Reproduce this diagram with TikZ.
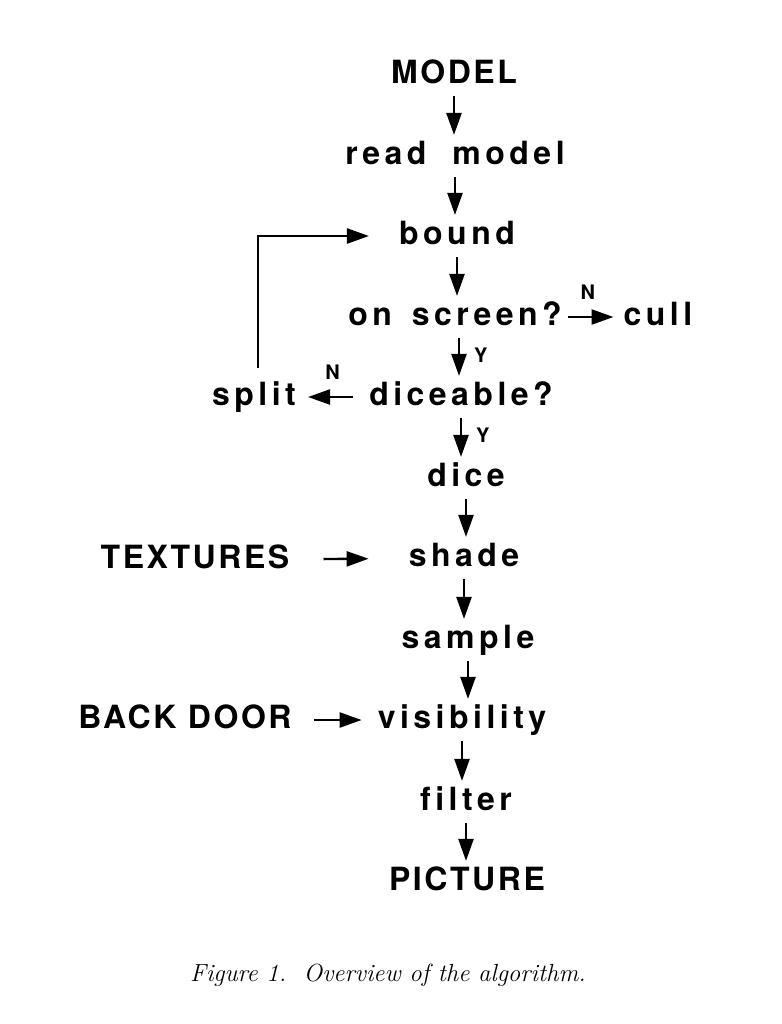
\documentclass[tikz,border=0pt]{standalone}
\usepackage{fontspec}
\setsansfont[LetterSpace=14,Ligatures=NoCommon]{TeX Gyre Heros}
\newfontfamily\capsfont[LetterSpace=8,Ligatures=NoCommon]{TeX Gyre Heros}
\usepackage{tikz}
\usetikzlibrary{shapes,arrows,arrows.meta,positioning}

\begin{document}
\begin{tikzpicture}[x=0.5pt,y=-0.5pt,
	box/.style={font=\sffamily\bfseries\fontsize{16}{18}\selectfont, inner sep=2.5pt, text height=11.5pt, text depth=3.4pt},
	capbox/.style={box, font=\capsfont\bfseries\fontsize{16}{18}\selectfont},
	yn/.style={font=\capsfont\bfseries\fontsize{10}{11}\selectfont, inner sep=1pt},
	>={Triangle[length=11pt,width=7.5pt]}, line width=1.2pt]
				\useasboundingbox (0,0) rectangle (782,1024);
				\node[capbox] (model) at (454,75) {MODEL};
				\node[box] (read) at (455,156) {read\hspace{13pt}model};
				\node[box] (bound) at (457,236) {bound};
				\node[box] (onscr) at (455,317) {on\hspace{10pt}screen?};
				\node[box] (cull) at (658,317) {cull};
				\node[box] (dicea) at (461,397) {diceable?};
				\node[box] (split) at (254,397) {split};
				\node[box] (dice) at (466,478) {dice};
				\node[box] (shade) at (464,558) {shade};
				\node[capbox] (textures) at (195,560) {TEXTURES};
				\node[box] (sample) at (468,640) {sample};
				\node[box] (visib) at (462,720) {visibility};
				\node[capbox] (backdoor) at (185,720) {BACK DOOR};
				\node[box] (filter) at (466,802) {filter};
				\node[capbox] (picture) at (467,882) {PICTURE};
				\node[font=\itshape\fontsize{12.4}{14}\selectfont] (caption) at (388,975) {Figure 1.\ \ Overview of the algorithm.};
				\draw [->] (model) -- (model |- read.north);
				\draw [->] (read) -- (read |- bound.north);
				\draw [->] (bound) -- (bound |- onscr.north);
				\draw [->] ([xshift=2pt]onscr.south) -- ([xshift=2pt]onscr.south |- dicea.north) node[yn, pos=0.45, right=6pt] (y1) {Y};
				\draw [->] (dicea) -- (dicea |- dice.north) node[yn, pos=0.45, right=6pt] (y2) {Y};
				\draw [->] (dice) -- (dice |- shade.north);
				\draw [->] (shade) -- (shade |- sample.north);
				\draw [->] (sample) -- (sample |- visib.north);
				\draw [->] (visib) -- (visib |- filter.north);
				\draw [->] (filter) -- (filter |- picture.north);
				\draw [->, shorten >=2pt] (onscr) -- (cull) node[yn, pos=0.4, above=7pt] (n1) {N};
				\draw [->, shorten <=5pt, shorten >=3pt] (dicea) -- (split) node[yn, pos=0.5, above=7pt] (n2) {N};
				\draw [->, shorten >=12pt] ([xshift=2pt,yshift=4pt]split.north) |- (bound.west);
				\draw [->, shorten <=14pt, shorten >=17pt] (textures) -- (shade);
				\draw [->, shorten <=8pt, shorten >=5pt] (backdoor) -- (visib);
				\end{tikzpicture}
\end{document}
